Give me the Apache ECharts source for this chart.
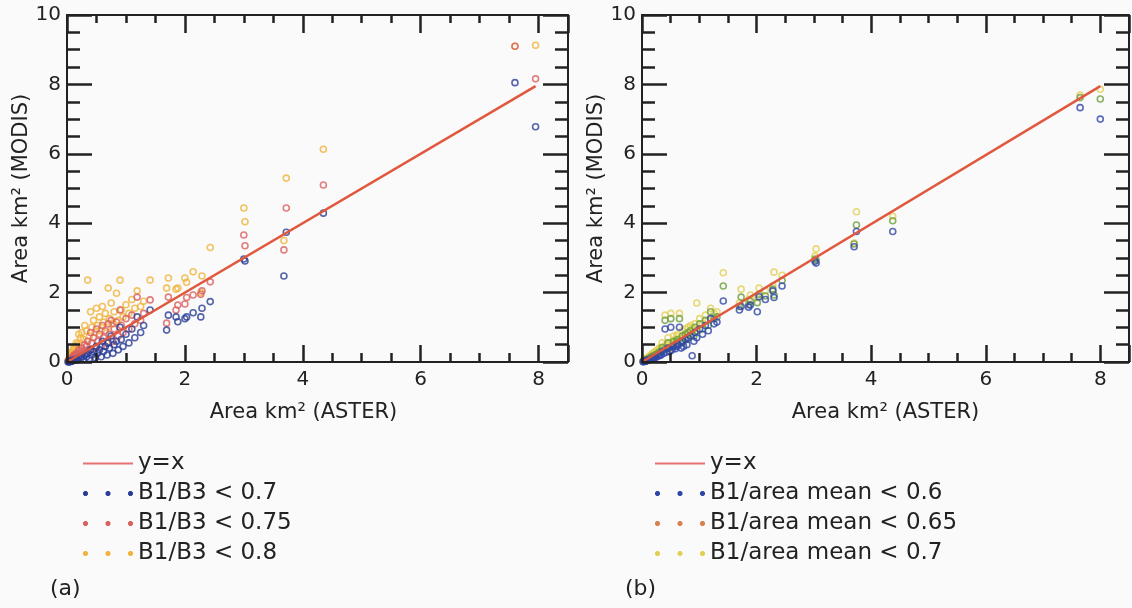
<!DOCTYPE html>
<html><head><meta charset="utf-8">
<script src="https://cdn.jsdelivr.net/npm/echarts@6/dist/echarts.min.js"></script>
<style>html,body{margin:0;padding:0;background:#fafafa;overflow:hidden}
.c{width:1132px;height:608px;position:absolute;left:0;top:0}</style>
</head><body><div class="c" id="marks"></div><div class="c" id="frame"></div>
<script>
// ASTER glacier areas (km²), shared by both panels
const asterArea = [
  7.95, 7.60, 4.35, 3.72, 3.68, 3.02, 3.00, 2.43, 2.29, 2.27,
  2.14, 2.03, 2.00, 1.88, 1.85, 1.72, 1.69, 1.41, 1.30, 1.25,
  1.19, 1.15, 1.10, 1.05, 1.00, 0.95, 0.92, 0.90, 0.87, 0.84,
  0.80, 0.78, 0.75, 0.72, 0.70, 0.68, 0.65, 0.62, 0.60, 0.58,
  0.55, 0.52, 0.50, 0.48, 0.45, 0.42, 0.40, 0.38, 0.35, 0.33,
  0.30, 0.28, 0.25, 0.23, 0.20, 0.18, 0.16, 0.14, 0.12, 0.10,
  0.09, 0.08, 0.07, 0.06, 0.05, 0.04, 0.03, 0.02];
// Panel (a): MODIS areas for B1/B3 thresholds
const modisB1B3_070 = [
  6.78, 8.05, 4.29, 3.74, 2.48, 2.91, 2.97, 1.74, 1.55, 1.30,
  1.42, 1.30, 1.25, 1.16, 1.30, 1.35, 0.92, 1.50, 1.05, 0.85,
  1.30, 0.70, 0.95, 0.55, 0.80, 0.45, 0.65, 1.00, 0.35, 0.60,
  0.50, 0.25, 0.75, 0.40, 0.55, 0.20, 0.45, 0.30, 0.60, 0.15,
  0.35, 0.25, 0.45, 0.12, 0.30, 0.20, 0.35, 0.10, 0.25, 0.15,
  0.20, 0.08, 0.15, 0.10, 0.12, 0.06, 0.08, 0.05, 0.06, 0.04,
  0.03, 0.03, 0.02, 0.02, 0.01, 0.01, 0.01, 0.00];
const modisB1B3_075 = [
  8.16, 9.10, 5.10, 4.44, 3.23, 3.35, 3.66, 2.31, 2.05, 1.95,
  1.93, 1.86, 1.67, 1.64, 1.50, 1.87, 1.12, 1.79, 1.40, 1.20,
  1.87, 1.10, 1.35, 0.95, 1.25, 0.85, 1.05, 1.50, 0.75, 1.15,
  0.95, 0.60, 1.20, 0.80, 1.10, 0.55, 0.90, 0.70, 1.05, 0.45,
  0.80, 0.60, 0.95, 0.40, 0.70, 0.55, 0.85, 0.35, 0.60, 0.45,
  0.50, 0.30, 0.40, 0.30, 0.35, 0.22, 0.25, 0.18, 0.20, 0.15,
  0.12, 0.10, 0.08, 0.07, 0.06, 0.05, 0.04, 0.03];
const modisB1B3_080 = [
  9.13, 9.10, 6.13, 5.30, 3.50, 4.04, 4.44, 3.30, 2.48, 2.00,
  2.60, 2.30, 2.42, 2.13, 2.10, 2.42, 2.13, 2.36, 1.75, 1.60,
  2.05, 1.55, 1.80, 1.40, 1.65, 1.30, 1.50, 2.36, 1.20, 1.98,
  1.45, 1.10, 1.70, 1.25, 2.13, 1.00, 1.40, 1.15, 1.60, 0.90,
  1.30, 1.05, 1.55, 0.85, 1.20, 1.00, 1.45, 0.75, 2.36, 0.90,
  1.05, 0.65, 0.85, 0.70, 0.80, 0.50, 0.55, 0.45, 0.40, 0.35,
  0.28, 0.25, 0.20, 0.16, 0.14, 0.10, 0.08, 0.05];
// Panel (b): MODIS areas for B1/area-mean thresholds
const modisMean_060 = [
  7.00, 7.33, 3.76, 3.76, 3.32, 2.85, 2.90, 2.19, 1.86, 2.05,
  1.80, 1.88, 1.45, 1.64, 1.58, 1.60, 1.50, 1.76, 1.15, 1.10,
  1.25, 0.90, 1.05, 0.80, 0.95, 0.70, 0.85, 0.60, 0.18, 0.75,
  0.70, 0.50, 0.65, 0.45, 0.60, 0.40, 1.00, 0.50, 0.45, 0.38,
  0.45, 0.35, 1.00, 0.30, 0.40, 0.28, 0.95, 0.25, 0.30, 0.20,
  0.18, 0.18, 0.15, 0.12, 0.12, 0.10, 0.08, 0.07, 0.06, 0.05,
  0.04, 0.04, 0.03, 0.03, 0.02, 0.02, 0.01, 0.01];
const modisMean_065 = [
  7.58, 7.62, 4.07, 3.95, 3.40, 2.94, 2.97, 2.35, 1.93, 2.10,
  1.90, 1.95, 1.71, 1.75, 1.65, 1.87, 1.60, 2.19, 1.30, 1.25,
  1.45, 1.05, 1.20, 0.95, 1.10, 0.90, 1.00, 0.75, 0.80, 0.90,
  0.85, 0.65, 0.80, 0.60, 0.75, 0.55, 1.25, 0.65, 0.60, 0.50,
  0.60, 0.45, 1.25, 0.40, 0.55, 0.38, 1.20, 0.35, 0.42, 0.30,
  0.28, 0.25, 0.22, 0.20, 0.18, 0.16, 0.14, 0.12, 0.10, 0.08,
  0.07, 0.06, 0.05, 0.05, 0.04, 0.03, 0.02, 0.02];
const modisMean_070 = [
  7.86, 7.69, 4.20, 4.33, 3.43, 3.26, 3.05, 2.50, 2.59, 2.20,
  2.05, 2.13, 1.85, 1.93, 1.80, 2.10, 1.70, 2.57, 1.45, 1.40,
  1.55, 1.20, 1.35, 1.10, 1.25, 1.70, 1.10, 0.95, 1.00, 1.05,
  1.00, 0.80, 0.95, 0.75, 0.90, 0.70, 1.40, 0.80, 0.75, 0.65,
  0.75, 0.58, 1.40, 0.55, 0.70, 0.50, 1.35, 0.45, 0.55, 0.40,
  0.40, 0.36, 0.32, 0.30, 0.26, 0.24, 0.20, 0.18, 0.15, 0.12,
  0.11, 0.10, 0.09, 0.08, 0.06, 0.05, 0.04, 0.03];
// reference line y = x
const refLineX = [0, 7.95];
const xAxisName = 'Area km² (ASTER)';
const yAxisName = 'Area km² (MODIS)';
const namesA = ['B1/B3 < 0.7', 'B1/B3 < 0.75', 'B1/B3 < 0.8'];
const namesB = ['B1/area mean < 0.6', 'B1/area mean < 0.65', 'B1/area mean < 0.7'];

const FONT = 'DejaVu Sans';
const INK = '#222';
function octo(cx, cy, r) {
  const k = r * 0.41;
  return 'M' + (cx - k) + ',' + (cy - r) + 'L' + (cx + k) + ',' + (cy - r) + 'L' + (cx + r) + ',' + (cy - k) +
    'L' + (cx + r) + ',' + (cy + k) + 'L' + (cx + k) + ',' + (cy + r) + 'L' + (cx - k) + ',' + (cy + r) +
    'L' + (cx - r) + ',' + (cy + k) + 'L' + (cx - r) + ',' + (cy - k) + 'Z';
}
const dots = 'path://' + octo(2.5, 2.5, 2.5) + octo(25, 2.5, 2.5) + octo(47.5, 2.5, 2.5);
const lineIcon = 'path://M0,0H50V2H0Z';

const grids = [
  {left: 67, top: 15, width: 501, height: 347},
  {left: 642, top: 15, width: 498, height: 347}
];

// ---------- frame chart: axes, ticks, labels, titles ----------
function xAxes(gi, padRight) {
  const base = {gridIndex: gi, type: 'value', min: 0, max: 8.5, splitLine: {show: false}};
  return [
    Object.assign({}, base, {position: 'bottom', interval: 2,
      axisLine: {show: true, onZero: false, lineStyle: {color: INK, width: 2}},
      axisTick: {show: true, inside: true, length: 17, lineStyle: {color: INK, width: 2.5}},
      axisLabel: {show: true, margin: 8, color: INK, fontFamily: FONT, fontSize: 20,
        formatter: v => (v % 2 === 0 ? String(v) : '')},
      name: xAxisName, nameLocation: 'middle', nameGap: 40,
      nameTextStyle: {color: INK, fontFamily: FONT, fontSize: 21, padding: [0, padRight, 0, 0]}}),
    Object.assign({}, base, {position: 'bottom', interval: 0.5,
      axisLine: {show: false, onZero: false},
      axisTick: {show: true, inside: true, length: 9, lineStyle: {color: INK, width: 2.5}},
      axisLabel: {show: false}}),
    Object.assign({}, base, {position: 'top', interval: 2,
      axisLine: {show: true, onZero: false, lineStyle: {color: INK, width: 2}},
      axisTick: {show: true, inside: true, length: 18, lineStyle: {color: INK, width: 2.5}},
      axisLabel: {show: false}}),
    Object.assign({}, base, {position: 'top', interval: 0.5,
      axisLine: {show: false, onZero: false},
      axisTick: {show: true, inside: true, length: 8, lineStyle: {color: INK, width: 2.5}},
      axisLabel: {show: false}})
  ];
}
function yAxes(gi) {
  const base = {gridIndex: gi, type: 'value', min: 0, max: 10, interval: 2, splitLine: {show: false},
    minorTick: {show: true, splitNumber: 4, length: 13, lineStyle: {color: INK, width: 2.5}},
    minorSplitLine: {show: false}};
  return [
    Object.assign({}, base, {position: 'left',
      axisLine: {show: true, onZero: false, lineStyle: {color: INK, width: 2}},
      axisTick: {show: true, inside: true, length: 25, lineStyle: {color: INK, width: 2.5}},
      axisLabel: {show: true, margin: 6, color: INK, fontFamily: FONT, fontSize: 20},
      name: yAxisName, nameLocation: 'middle', nameGap: 29,
      nameTextStyle: {color: INK, fontFamily: FONT, fontSize: 21}}),
    Object.assign({}, base, {position: 'right',
      axisLine: {show: true, onZero: false, lineStyle: {color: INK, width: 2}},
      axisTick: {show: true, inside: true, length: 25, lineStyle: {color: INK, width: 2.5}},
      axisLabel: {show: false}})
  ];
}
const frame = echarts.init(document.getElementById('frame'), null, {renderer: 'canvas'});
frame.setOption({
  animation: false,
  grid: grids,
  xAxis: xAxes(0, 28).concat(xAxes(1, 0)),
  yAxis: yAxes(0).concat(yAxes(1))
});

// ---------- marks chart: scatter points, y=x line, legends ----------
function hiddenAxis(gi, max) {
  return {gridIndex: gi, type: 'value', min: 0, max: max, show: false};
}
function scatter(name, ys, color, gi) {
  return {
    name: name, type: 'scatter', xAxisIndex: gi, yAxisIndex: gi,
    symbol: 'circle', symbolSize: 6,
    itemStyle: {color: 'rgba(255,255,255,0)', borderColor: color, borderWidth: 1.6, opacity: 0.8},
    data: asterArea.map((x, i) => [x, ys[i]]),
    z: 2
  };
}
function refLine(gi) {
  return {
    name: 'y=x', type: 'line', xAxisIndex: gi, yAxisIndex: gi, symbol: 'none', showSymbol: false,
    lineStyle: {color: '#e0583e', width: 2.5}, itemStyle: {color: '#e0583e'},
    data: refLineX.map(v => [v, v]), z: 3
  };
}
function legend(left, names, cols) {
  return {
    left: left, top: 447, orient: 'vertical', itemWidth: 50, itemHeight: 5, itemGap: 7,
    selectedMode: false,
    textStyle: {fontFamily: FONT, fontSize: 23, color: INK},
    data: [{name: 'y=x', icon: lineIcon, itemStyle: {color: '#e57373', borderWidth: 0}}]
      .concat(names.map((n, i) => ({name: n, icon: dots, itemStyle: {color: cols[i], borderWidth: 0, opacity: 1}})))
  };
}
const colA = ['#2b3d96', '#d9605e', '#f0b43c'];
const colB = ['#2f46a8', '#6e9f3c', '#e3cf55'];
const legColB = ['#2f46a8', '#d9804f', '#e3cf55'];

const marks = echarts.init(document.getElementById('marks'), null, {renderer: 'canvas'});
marks.setOption({
  animation: false,
  grid: grids,
  xAxis: [hiddenAxis(0, 8.5), hiddenAxis(1, 8.5)],
  yAxis: [hiddenAxis(0, 10), hiddenAxis(1, 10)],
  legend: [legend(78, namesA, colA), legend(650, namesB, legColB)],
  series: [
    scatter(namesA[2], modisB1B3_080, colA[2], 0),
    scatter(namesA[1], modisB1B3_075, colA[1], 0),
    scatter(namesA[0], modisB1B3_070, colA[0], 0),
    refLine(0),
    scatter(namesB[2], modisMean_070, colB[2], 1),
    scatter(namesB[1], modisMean_065, colB[1], 1),
    scatter(namesB[0], modisMean_060, colB[0], 1),
    refLine(1)
  ],
  graphic: [
    {type: 'text', left: 50, top: 578, style: {text: '(a)', font: '22px "DejaVu Sans"', fill: INK}},
    {type: 'text', left: 625, top: 578, style: {text: '(b)', font: '22px "DejaVu Sans"', fill: INK}}
  ]
});
</script></body></html>
